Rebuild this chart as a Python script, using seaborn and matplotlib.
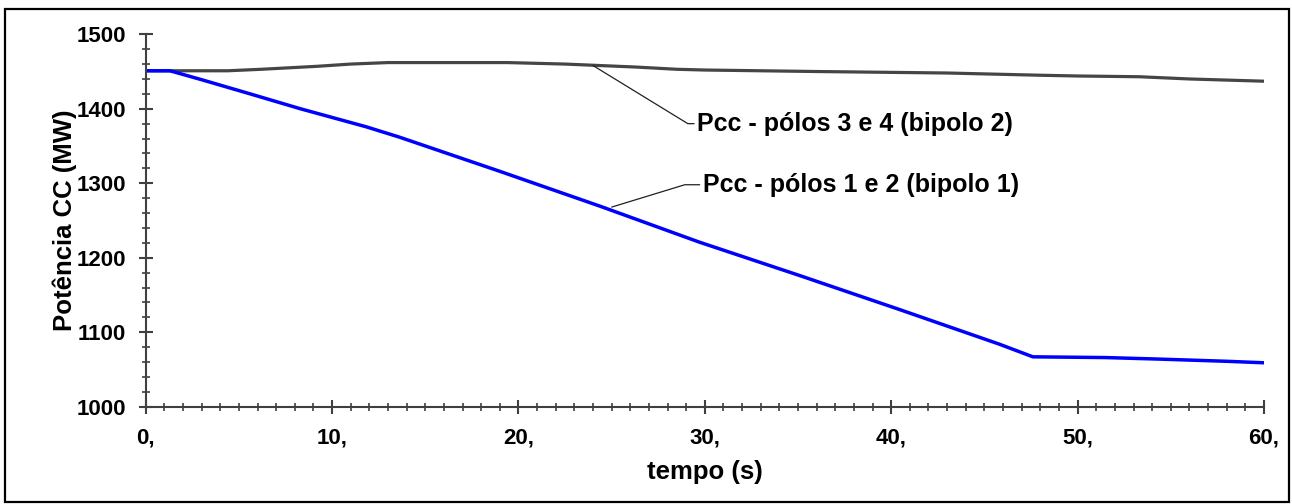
import matplotlib
matplotlib.use("Agg")
import matplotlib.pyplot as plt
from matplotlib.ticker import MultipleLocator, FixedLocator
from matplotlib.patches import Rectangle
import seaborn as sns
import pandas as pd

# ---- data ----
t_bip2 = [0, 4.4, 6.2, 7.7, 9.2, 11, 13, 19.4, 22.5, 24.4, 26.3, 28.5, 30, 36, 43, 48, 50, 53.3, 56, 60]
p_bip2 = [1451, 1451, 1453, 1455, 1457, 1460, 1462, 1462, 1460, 1458, 1456, 1453, 1452, 1450, 1448, 1445, 1444, 1443, 1440, 1437]

t_bip1 = [0, 1.3, 3, 5.6, 8.3, 11.8, 13.6, 19, 24.4, 29.7, 35.1, 40.5, 45.8, 47.6, 51.5, 54.3, 58, 60]
p_bip1 = [1451, 1451, 1439, 1420, 1400, 1376, 1362, 1316, 1269, 1221, 1176, 1130, 1084, 1067, 1066, 1064, 1061, 1059]

label_bip2 = "Pcc - pólos 3 e 4 (bipolo 2)"
label_bip1 = "Pcc - pólos 1 e 2 (bipolo 1)"
xticks = [0, 10, 20, 30, 40, 50, 60]
xtick_labels = ["0,", "10,", "20,", "30,", "40,", "50,", "60,"]
yticks = [1000, 1100, 1200, 1300, 1400, 1500]
xlabel = "tempo (s)"
ylabel = "Potência CC (MW)"

df2 = pd.DataFrame({"t": t_bip2, "p": p_bip2})
df1 = pd.DataFrame({"t": t_bip1, "p": p_bip1})

sns.set_style("ticks")
plt.rcParams["font.family"] = ["Liberation Sans", "DejaVu Sans"]
plt.rcParams["font.weight"] = "bold"
plt.rcParams["text.color"] = "black"
plt.rcParams["axes.labelcolor"] = "black"

fig = plt.figure(figsize=(12.92, 5.04), dpi=100)
ax = fig.add_axes([0.1128, 0.193, 0.9783 - 0.1128, 0.739])

axis_col = "#404040"
sns.lineplot(data=df2, x="t", y="p", ax=ax, color="#454545", linewidth=2.3, estimator=None, sort=False)
sns.lineplot(data=df1, x="t", y="p", ax=ax, color="#0000ff", linewidth=2.5, estimator=None, sort=False)

ax.set_xlim(0, 60)
ax.set_ylim(1000, 1500)
ax.xaxis.set_major_locator(FixedLocator(xticks))
ax.set_xticklabels(xtick_labels)
ax.xaxis.set_minor_locator(MultipleLocator(1))
ax.yaxis.set_major_locator(FixedLocator(yticks))
ax.set_yticklabels([str(v) for v in yticks])
ax.yaxis.set_minor_locator(MultipleLocator(20))

for s in ["top", "right"]:
    ax.spines[s].set_visible(False)
for s in ["left", "bottom"]:
    ax.spines[s].set_color(axis_col)
    ax.spines[s].set_linewidth(1.5)

ax.tick_params(axis="both", which="major", direction="inout", length=10, width=1.5,
               color=axis_col, labelsize=16, labelcolor="black")
ax.tick_params(axis="both", which="minor", direction="inout", length=6, width=1.2, color=axis_col)
ax.tick_params(axis="x", which="major", pad=10)
ax.tick_params(axis="y", which="major", pad=9)
for lab in ax.get_xticklabels() + ax.get_yticklabels():
    lab.set_fontweight("bold")

ax.set_xlabel(xlabel, fontsize=18.5, fontweight="bold", labelpad=8, color="black")
ax.set_ylabel(ylabel, fontsize=18.5, fontweight="bold", labelpad=0, color="black")

ax.annotate(label_bip2, xy=(24.0, 1458), xytext=(29.6, 1380), xycoords="data", textcoords="data",
            ha="left", va="center", fontsize=18, fontweight="bold", color="black",
            arrowprops=dict(arrowstyle="-", color="#202020", lw=0.9, relpos=(0, 0.5),
                            shrinkA=0, shrinkB=0,
                            connectionstyle="angle,angleA=0,angleB=-31.5,rad=0"))
ax.annotate(label_bip1, xy=(25.0, 1268), xytext=(29.9, 1298), xycoords="data", textcoords="data",
            ha="left", va="center", fontsize=18, fontweight="bold", color="black",
            arrowprops=dict(arrowstyle="-", color="#202020", lw=0.9, relpos=(0, 0.5),
                            shrinkA=0, shrinkB=0,
                            connectionstyle="angle,angleA=0,angleB=17,rad=0"))

W, H = 1292, 504
fig.patches.append(Rectangle((5 / W, 1 - 502 / H), (1289 - 5) / W, (502 - 9) / H,
                             transform=fig.transFigure, fill=False, edgecolor="black",
                             linewidth=1.6, zorder=10))

fig.savefig("out.png", dpi=100, facecolor="white")
